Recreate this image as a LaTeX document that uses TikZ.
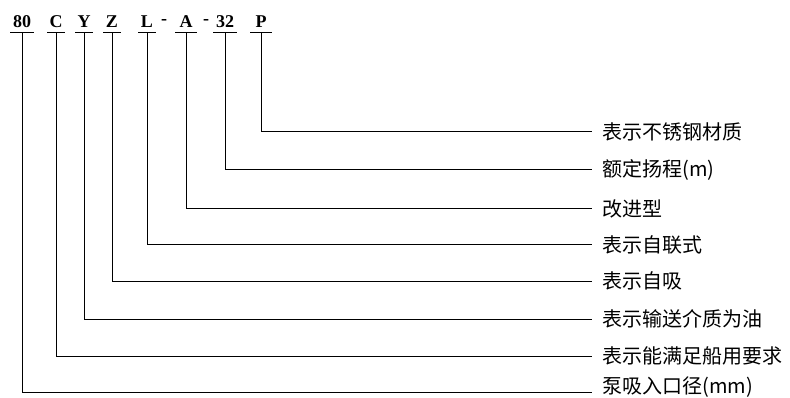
\documentclass[tikz,border=0pt]{standalone}
\usepackage{fontspec}
\setmainfont{Liberation Serif}
\newfontfamily\cjk{Noto Sans CJK SC}
\usetikzlibrary{positioning}

\begin{document}
\begin{tikzpicture}[x=1pt,y=-1pt,line width=1pt,
  code/.style={font=\fontsize{18}{18}\selectfont\bfseries,anchor=base,inner sep=0pt},
  desc/.style={font=\cjk\fontsize{20}{20}\selectfont,anchor=west,inner xsep=10pt,inner ysep=0pt}]
\useasboundingbox (0,0) rectangle (790,398);
% model code: 80 C Y Z L - A - 32 P
\node[code] (c80) at (22,28) {80};
\node[code] (cC) at (56,28) {C};
\node[code] (cY) at (84,28) {Y};
\node[code] (cZ) at (112,28) {Z};
\node[code] (cL) at (147,28) {L};
\node[code] (dash1) at (164,25) {-};
\node[code] (cA) at (186,28) {A};
\node[code] (dash2) at (206,25) {-};
\node[code] (c32) at (225,28) {32};
\node[code] (cP) at (261,28) {P};
% underlines below each part
\coordinate (u80) at (22,33); \coordinate (uC) at (56,33);
\coordinate (uY) at (84,33); \coordinate (uZ) at (112,33);
\coordinate (uL) at (147,33); \coordinate (uA) at (186,33);
\coordinate (u32) at (225,33); \coordinate (uP) at (261,33);
\draw ([xshift=-12pt]u80) -- ([xshift=12pt]u80);
\draw ([xshift=-9pt]uC) -- ([xshift=9pt]uC);
\draw ([xshift=-9pt]uY) -- ([xshift=9pt]uY);
\draw ([xshift=-9pt]uZ) -- ([xshift=9pt]uZ);
\draw ([xshift=-9pt]uL) -- ([xshift=9pt]uL);
\draw ([xshift=-11pt]uA) -- ([xshift=11pt]uA);
\draw ([xshift=-12pt]u32) -- ([xshift=12pt]u32);
\draw ([xshift=-11pt]uP) -- ([xshift=11pt]uP);
% meanings on the right
\node[desc] (dP) at (592,132) {表示不锈钢材质};
\node[desc] (d32) at (592,170) {额定扬程(m)};
\node[desc] (dA) at (592,209) {改进型};
\node[desc] (dL) at (592,245) {表示自联式};
\node[desc] (dZ) at (592,281) {表示自吸};
\node[desc] (dY) at (592,319) {表示输送介质为油};
\node[desc] (dC) at (592,356) {表示能满足船用要求};
\node[desc] (d80) at (592,387) {泵吸入口径(mm)};
% leader lines
\draw (uP) |- (dP.west);
\draw (u32) |- (d32.west);
\draw (uA) |- (dA.west);
\draw (uL) |- (dL.west);
\draw (uZ) |- (dZ.west);
\draw (uY) |- (dY.west);
\draw (uC) |- (dC.west);
\draw (u80) |- ([yshift=-5pt]d80.west);
\end{tikzpicture}
\end{document}
